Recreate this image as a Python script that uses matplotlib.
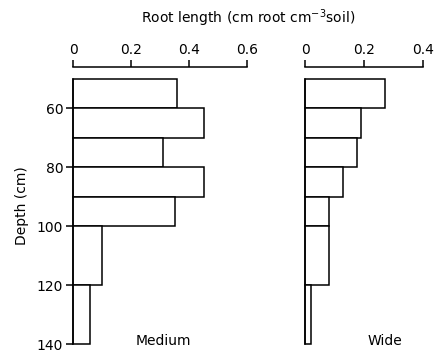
import matplotlib.pyplot as plt

depth_top = [50, 60, 70, 80, 90, 100, 120]
layer_thick = [10, 10, 10, 10, 10, 20, 20]
medium = [0.36, 0.45, 0.31, 0.45, 0.35, 0.10, 0.06]
wide = [0.27, 0.19, 0.175, 0.13, 0.08, 0.08, 0.02]

plt.rcParams['font.family'] = 'DejaVu Sans'
plt.rcParams['font.size'] = 10

fig = plt.figure(figsize=(4.34, 3.51), dpi=100)
ax1 = fig.add_axes([73/434, 7/351, 174/434, 277/351])
ax2 = fig.add_axes([305/434, 7/351, 118/434, 277/351])


def style(ax, xmax, xticks, show_y):
    ax.set_xlim(0, xmax)
    ax.set_ylim(140, 46)
    ax.xaxis.tick_top()
    ax.set_xticks(xticks)
    ax.set_xticklabels(['0' if t == 0 else f'{t:g}' for t in xticks])
    ax.tick_params(axis='x', direction='out', length=5, width=1.1, pad=2)
    for s in ['right', 'bottom']:
        ax.spines[s].set_visible(False)
    ax.spines['top'].set_linewidth(1.1)
    ax.spines['left'].set_bounds(50, 140)
    ax.spines['left'].set_linewidth(1.1)
    if show_y:
        ax.set_yticks([60, 80, 100, 120, 140])
        ax.tick_params(axis='y', direction='out', length=5, width=1.1, pad=2)
    else:
        ax.set_yticks([])


style(ax1, 0.6, [0, 0.2, 0.4, 0.6], True)
style(ax2, 0.4, [0, 0.2, 0.4], False)

ax1.barh(depth_top, medium, height=layer_thick, align='edge', left=0,
         color='white', edgecolor='black', linewidth=1.1, clip_on=False)
ax2.barh(depth_top, wide, height=layer_thick, align='edge', left=0,
         color='white', edgecolor='black', linewidth=1.1, clip_on=False)

ax1.set_ylabel('Depth (cm)', labelpad=6)
ax1.text(0.31, 139, 'Medium', ha='center', va='center')
ax2.text(0.27, 139, 'Wide', ha='center', va='center')
fig.text(248/434, 1 - 18/351, 'Root length (cm root cm$^{-3}$soil)', ha='center', va='center')

fig.savefig('out.png', dpi=100)
